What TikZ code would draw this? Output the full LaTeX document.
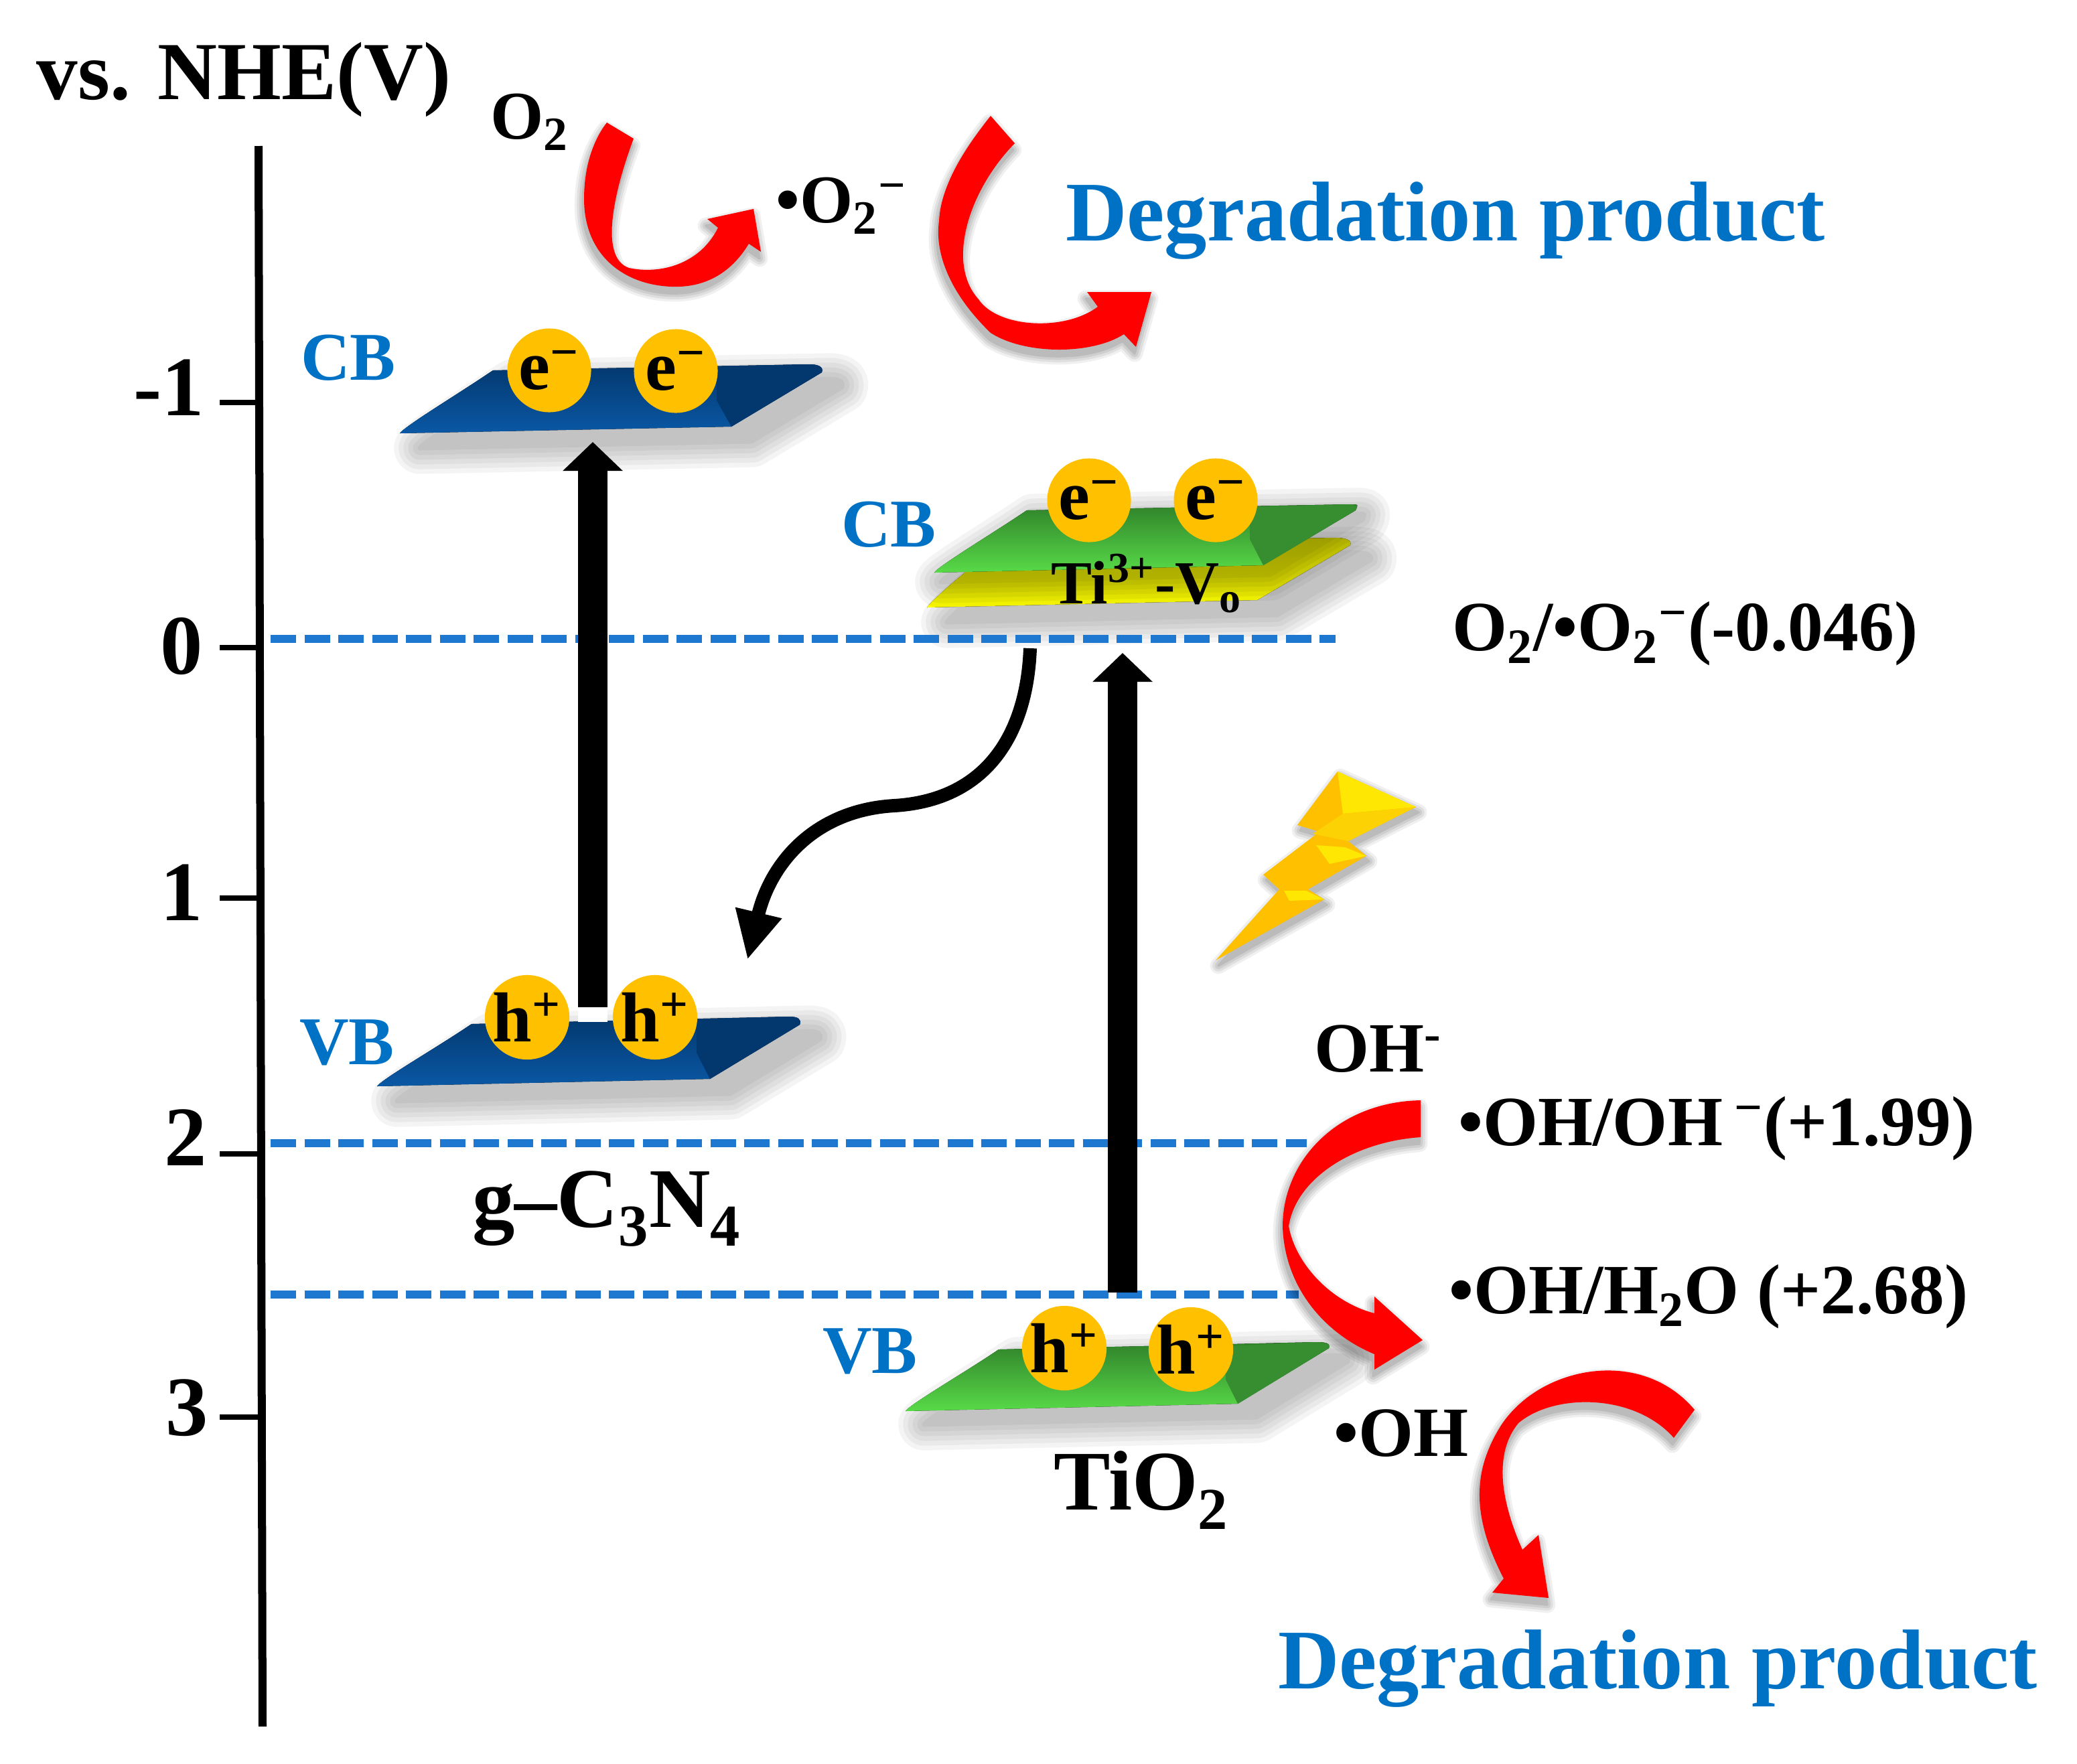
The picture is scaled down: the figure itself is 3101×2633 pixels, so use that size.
\documentclass[tikz,border=0pt]{standalone}
\usepackage{fontspec}
\setmainfont{Liberation Serif}
\usetikzlibrary{arrows.meta}

\definecolor{bandblue}{RGB}{0,114,198}
\definecolor{levelblue}{RGB}{31,120,208}
\definecolor{carrier}{RGB}{255,192,0}
\definecolor{navytop}{RGB}{3,56,110}
\definecolor{navybottom}{RGB}{10,88,165}
\definecolor{leaftop}{RGB}{48,130,42}
\definecolor{leafbottom}{RGB}{88,218,72}
\definecolor{leafside}{RGB}{54,142,48}

\tikzset{
    every node/.style={font=\bfseries, inner sep=0pt},
    bigtext/.style={font=\bfseries\fontsize{36}{40}\selectfont},
    midtext/.style={font=\bfseries\fontsize{30}{34}\selectfont},
    bandtext/.style={text=bandblue, font=\bfseries\fontsize{29}{32}\selectfont},
    carrierball/.style={circle, fill=carrier, minimum size=1.25cm, font=\bfseries\fontsize{30}{32}\selectfont},
    levelline/.style={levelblue, line width=.125cm, dash pattern=on .38cm off .125cm},
    pumparrow/.style={black, line width=.44cm, -{Triangle[length=.43cm,width=.87cm]}},
    navyplate/.style={top color=navytop, bottom color=navybottom},
    leafplate/.style={top color=leaftop, bottom color=leafbottom}
}

\newcommand{\softlayer}[3]{
    \begin{scope}[transparency group, opacity=#2]
        \filldraw[black, line join=round, line width=#1] #3;
    \end{scope}
}
\newcommand{\softshade}[2]{
    \begin{scope}[shift={#1}]
        \softlayer{22pt}{.045}{#2}
        \softlayer{18pt}{.045}{#2}
        \softlayer{14pt}{.045}{#2}
        \softlayer{10pt}{.045}{#2}
        \softlayer{6pt}{.045}{#2}
        \softlayer{2pt}{.045}{#2}
    \end{scope}
}
\newcommand{\tightshade}[2]{
    \begin{scope}[shift={#1}]
        \softlayer{7pt}{.06}{#2}
        \softlayer{5pt}{.07}{#2}
        \softlayer{3pt}{.08}{#2}
        \softlayer{1pt}{.09}{#2}
    \end{scope}
}
\newcommand{\plateoutline}[5]{#1 .. controls +(6,-10) and +(-50,34) .. #2 -- #3 .. controls +(14,0) and +(3,-8) .. #4 -- #5 -- cycle}
\newcommand{\redarrow}[1]{
    \tightshade{(-2,10)}{#1}
    \fill[red] #1;
}

\begin{document}
\begin{tikzpicture}[x=.01cm, y=-.01cm]

        \useasboundingbox (0,0) rectangle (3101,2633);

        \coordinate (axistop) at (386,218);
        \coordinate (axisbottom) at (392,2578);
        \draw[black, line width=.12cm] (axistop) -- (axisbottom);

        \draw[black, line width=.08cm] (328,601) -- (386,601);
        \draw[black, line width=.08cm] (328,967) -- (388,967);
        \draw[black, line width=.08cm] (328,1341) -- (388,1341);
        \draw[black, line width=.08cm] (328,1723) -- (389,1723);
        \draw[black, line width=.08cm] (328,2116) -- (390,2116);

        \node[font=\bfseries\fontsize{35}{40}\selectfont] (title) at (364,119) {vs. NHE(V)};
        \node[bigtext] (tickminus) at (252,579) {-1};
        \node[bigtext] (tickzero) at (271,965) {0};
        \node[bigtext] (tickone) at (271,1333) {1};
        \node[bigtext] (ticktwo) at (277,1699) {2};
        \node[bigtext] (tickthree) at (279,2102) {3};

        \softshade{(30,22)}{\plateoutline{(1384,907)}{(1500,810)}{(1994,803)}{(2016,814)}{(1877,896)}}
        \fill[top color=yellow!82!black, bottom color=yellow] \plateoutline{(1384,907)}{(1500,810)}{(1994,803)}{(2016,814)}{(1877,896)};

        \softshade{(30,22)}{\plateoutline{(597,647)}{(736,553)}{(1208,544)}{(1227,556)}{(1092,637)}}
        \fill[navyplate] \plateoutline{(597,647)}{(736,553)}{(1208,544)}{(1227,556)}{(1092,637)};
        \fill[navytop] (1092,637) -- (1070,598) -- (1070,547) -- (1208,544) .. controls (1222,544) and (1230,548) .. (1227,556) -- cycle;

        \softshade{(10,14)}{\plateoutline{(1395,855)}{(1533,762)}{(2016,753)}{(2024,762)}{(1886,844)}}
        \fill[leafplate] \plateoutline{(1395,855)}{(1533,762)}{(2016,753)}{(2024,762)}{(1886,844)};
        \fill[leafside] (1886,844) -- (1866,805) -- (1866,757) -- (2016,753) .. controls (2024,753) and (2028,757) .. (2024,762) -- cycle;

        \softshade{(30,22)}{\plateoutline{(563,1622)}{(704,1529)}{(1178,1518)}{(1194,1530)}{(1060,1611)}}
        \fill[navyplate] \plateoutline{(563,1622)}{(704,1529)}{(1178,1518)}{(1194,1530)}{(1060,1611)};
        \fill[navytop] (1060,1611) -- (1040,1572) -- (1040,1522) -- (1178,1518) .. controls (1192,1518) and (1197,1524) .. (1194,1530) -- cycle;

        \softshade{(28,20)}{\plateoutline{(1352,2107)}{(1491,2015)}{(1964,2004)}{(1984,2013)}{(1848,2096)}}
        \fill[leafplate] \plateoutline{(1352,2107)}{(1491,2015)}{(1964,2004)}{(1984,2013)}{(1848,2096)};
        \fill[leafside] (1848,2096) -- (1830,2060) -- (1830,2010) -- (1964,2004) .. controls (1978,2004) and (1988,2008) .. (1984,2013) -- cycle;

        \coordinate (zeroleft) at (404,954);
        \coordinate (zeroright) at (1994,954);
        \coordinate (oneleft) at (404,1707);
        \coordinate (oneright) at (1951,1707);
        \coordinate (twoleft) at (404,1933);
        \coordinate (tworight) at (1939,1933);
        \draw[levelline] (zeroleft) -- (zeroright);
        \draw[levelline] (oneleft) -- (oneright);
        \draw[levelline] (twoleft) -- (tworight);

        \coordinate (gcnstart) at (885,1504);
        \coordinate (gcnend) at (885,660);
        \coordinate (tiostart) at (1676,1930);
        \coordinate (tioend) at (1676,975);
        \fill[white] (863,1504) rectangle (907,1526);
        \draw[pumparrow] (gcnstart) -- (gcnend);
        \draw[pumparrow] (tiostart) -- (tioend);

        \coordinate (wavestart) at (1538,968);
        \coordinate (waveend) at (1116,1433);
        \draw[black, line width=.2cm, -{Triangle[length=.72cm,width=.66cm]}] (wavestart) .. controls (1533,1100) and (1470,1195) .. (1335,1203) .. controls (1215,1210) and (1150,1290) .. (waveend);

        \node[carrierball] (ecb1) at (820,553) {e\textsuperscript{−}};
        \node[carrierball] (ecb2) at (1009,554) {e\textsuperscript{−}};
        \node[carrierball] (ecb3) at (1626,747) {e\textsuperscript{−}};
        \node[carrierball] (ecb4) at (1815,747) {e\textsuperscript{−}};
        \node[carrierball] (hvb1) at (787,1519) {h\textsuperscript{+}};
        \node[carrierball] (hvb2) at (978,1519) {h\textsuperscript{+}};
        \node[carrierball] (hvb3) at (1589,2013) {h\textsuperscript{+}};
        \node[carrierball] (hvb4) at (1778,2015) {h\textsuperscript{+}};

        \node[bandtext] (cbleft) at (520,534) {CB};
        \node[bandtext] (cbright) at (1327,783) {CB};
        \node[bandtext] (vbleft) at (518,1557) {VB};
        \node[bandtext] (vbright) at (1299,2018) {VB};

        \node[font=\bfseries\fontsize{26}{30}\selectfont] (defect) at (1712,871) {Ti\textsuperscript{3+}-V\textsubscript{o}};
        \node[bigtext] (gcn) at (906,1805) {g–C\textsubscript{3}N\textsubscript{4}};
        \node[bigtext] (tio) at (1704,2225) {TiO\textsubscript{2}};

        \node[font=\bfseries\fontsize{29}{32}\selectfont] (oxygen) at (791,182) {O\textsubscript{2}};
        \node[font=\bfseries\fontsize{29}{32}\selectfont] (superoxide) at (1256,307) {•O\textsubscript{2}\textsuperscript{−}};
        \node[midtext] (levelzero) at (2516,946) {O\textsubscript{2}/•O\textsubscript{2}\textsuperscript{−}(-0.046)};
        \node[midtext] (hydroxide) at (2058,1566) {OH\textsuperscript{-}};
        \node[midtext] (levelone) at (2563,1685) {•OH/OH\,\textsuperscript{−}(+1.99)};
        \node[midtext] (leveltwo) at (2551,1936) {•OH/H\textsubscript{2}O (+2.68)};
        \node[midtext] (radical) at (2092,2140) {•OH};

        \node[bigtext, text=bandblue] (producttop) at (2158,330) {Degradation product};
        \node[bigtext, text=bandblue] (productbottom) at (2475,2492) {Degradation product};

        \redarrow{(906,183) -- (946,207) .. controls (915,290) and (895,385) .. (939,400) .. controls (985,410) and (1045,395) .. (1072,340) -- (1056,327) -- (1125,312) -- (1136,376) -- (1118,364) .. controls (1090,410) and (1050,430) .. (1002,428) .. controls (930,425) and (872,380) .. (872,297) .. controls (872,250) and (885,210) .. cycle}

        \redarrow{(1479,173) -- (1515,214) .. controls (1450,280) and (1410,390) .. (1461,447) .. controls (1490,490) and (1590,495) .. (1639,458) -- (1623,436) -- (1719,436) -- (1696,518) -- (1678,499) .. controls (1630,530) and (1530,530) .. (1479,497) .. controls (1420,440) and (1395,380) .. (1402,330) .. controls (1405,270) and (1450,210) .. cycle}

        \redarrow{(2121,1643) -- (2121,1698) .. controls (2020,1705) and (1935,1760) .. (1924,1831) .. controls (1935,1890) and (1990,1945) .. (2052,1961) -- (2052,1936) -- (2124,2001) -- (2052,2045) -- (2052,2022) .. controls (1975,1990) and (1918,1920) .. (1915,1832) .. controls (1915,1730) and (2000,1645) .. cycle}

        \redarrow{(2530,2105) -- (2499,2147) .. controls (2440,2080) and (2320,2080) .. (2267,2125) .. controls (2230,2170) and (2240,2240) .. (2273,2314) -- (2297,2292) -- (2312,2386) -- (2228,2378) -- (2245,2357) .. controls (2200,2270) and (2195,2200) .. (2242,2127) .. controls (2300,2040) and (2450,2010) .. cycle}

        \tightshade{(4,8)}{(1997,1152) -- (2114,1205) -- (2013,1256) -- (2040,1278) -- (1953,1328) -- (1977,1343) -- (1815,1434) -- (1910,1328) -- (1886,1306) -- (1970,1242) -- (1937,1232) -- cycle}
        \fill[carrier] (1997,1152) -- (2114,1205) -- (2013,1256) -- (2040,1278) -- (1953,1328) -- (1977,1343) -- (1815,1434) -- (1910,1328) -- (1886,1306) -- (1970,1242) -- (1937,1232) -- cycle;
        \fill[yellow!90!orange] (1997,1152) -- (2114,1205) -- (2005,1215) -- cycle;
        \fill[yellow!70!orange] (2005,1215) -- (2114,1205) -- (2013,1256) -- (1960,1245) -- cycle;
        \fill[yellow!90!orange] (1965,1262) -- (2008,1265) -- (2040,1278) -- (1985,1290) -- cycle;
        \fill[yellow!90!orange] (1917,1330) -- (1950,1330) -- (1977,1343) -- (1925,1345) -- cycle;

\end{tikzpicture}
\end{document}
